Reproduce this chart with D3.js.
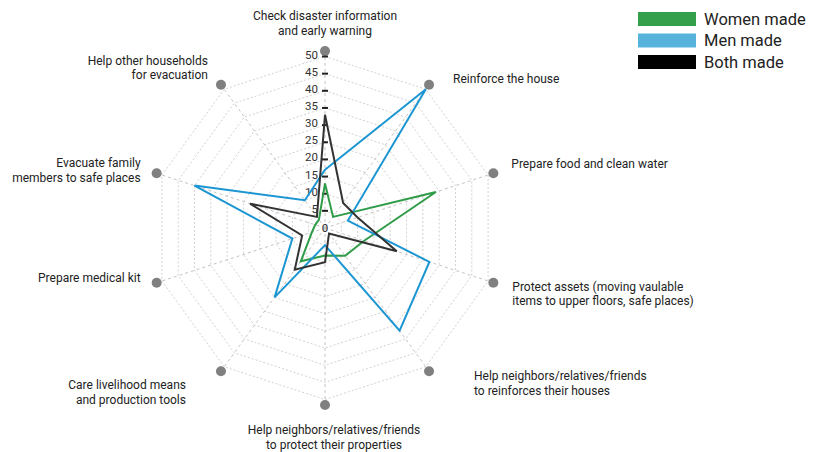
<!DOCTYPE html>
<html>
<head>
<meta charset="utf-8">
<script src="https://cdn.jsdelivr.net/npm/d3@7"></script>
<style>
  html, body { margin: 0; padding: 0; background: #fff; }
  svg { display: block; font-family: Roboto, "Noto Sans", sans-serif; }
</style>
</head>
<body>
<svg id="chart" width="826" height="452"></svg>
<script>
// ---- data ----
const categories = [
  ["Check disaster information", "and early warning"],
  ["Reinforce the house"],
  ["Prepare food and clean water"],
  ["Protect assets (moving vaulable", "items to upper floors, safe places)"],
  ["Help neighbors/relatives/friends", "to reinforces their houses"],
  ["Help neighbors/relatives/friends", "to protect their properties"],
  ["Care livelihood means", "and production tools"],
  ["Prepare medical kit"],
  ["Evacuate family", "members to safe places"],
  ["Help other households", "for evacuation"]
];
const seriesNames = ["Women made", "Men made", "Both made"];
const womenMade = [13, 4, 34, 12, 10, 8, 12, 4, 3, 3];
const menMade   = [17, 50, 7, 32, 37, 5, 25, 10, 40, 10];
const bothMade  = [33, 9, 10, 22, 2, 10, 15, 7, 23, 4];
const tickValues = [0, 5, 10, 15, 20, 25, 30, 35, 40, 45, 50];

// ---- layout / style ----
const cx = 325, cy = 228, R = 171.5, dotR = 177;
const lineColors = ["#2e9c48", "#1c96d2", "#333333"];
const legendColors = ["#35a04b", "#58b3dc", "#000000"];
// label offsets relative to the axis end dot: [dx, dy of first line]
const labelLayout = [
  [0, -35], [24, -6], [18, -9], [19, 4], [45, 5],
  [9, 25], [-35, 14], [-16, -5], [-16, -10], [-13, -24]
];

const svg = d3.select("#chart");
const n = categories.length;
const r = d3.scaleLinear().domain([0, 50]).range([0, R]);
const angle = d3.scaleLinear().domain([0, n]).range([0, 2 * Math.PI]);
const px = (i, v) => cx + v * Math.sin(angle(i));
const py = (i, v) => cy - v * Math.cos(angle(i));

const g = svg.append("g");

// grid decagons
const gridLine = d3.line().x(d => d[0]).y(d => d[1]);
tickValues.filter(t => t > 0).forEach(t => {
  const pts = d3.range(n + 1).map(i => [px(i % n, r(t)), py(i % n, r(t))]);
  g.append("path").attr("d", gridLine(pts))
    .attr("fill", "none").attr("stroke", "#d2d2d2")
    .attr("stroke-width", 1).attr("stroke-dasharray", "2,2");
});

// axis spokes
d3.range(n).forEach(i => {
  g.append("line")
    .attr("x1", cx).attr("y1", cy)
    .attr("x2", px(i, dotR)).attr("y2", py(i, dotR))
    .attr("stroke", "#c4c4c4").attr("stroke-width", 1)
    .attr("stroke-dasharray", "3,3");
});

// dots
d3.range(n).forEach(i => {
  g.append("circle")
    .attr("cx", px(i, dotR)).attr("cy", py(i, dotR))
    .attr("r", 5).attr("fill", "#808080");
});

// tick labels and marks on the top axis
tickValues.forEach(t => {
  const y = cy - r(t);
  if (t === 0) {
    g.append("text").attr("x", cx).attr("y", y)
      .attr("text-anchor", "middle").attr("dominant-baseline", "central")
      .attr("font-size", 11.5).attr("fill", "#333").text(t);
  } else {
    g.append("line").attr("x1", cx - 3).attr("x2", cx + 3)
      .attr("y1", y).attr("y2", y)
      .attr("stroke", "#222").attr("stroke-width", 2);
    g.append("text").attr("x", cx - 7).attr("y", y - 2)
      .attr("text-anchor", "end").attr("dominant-baseline", "central")
      .attr("font-size", 11.5).attr("fill", "#333").text(t);
  }
});

// series
const radial = d3.lineRadial()
  .angle((d, i) => angle(i))
  .radius(d => r(d))
  .curve(d3.curveLinearClosed);
[womenMade, menMade, bothMade].forEach((vals, k) => {
  g.append("path")
    .attr("transform", `translate(${cx},${cy})`)
    .attr("d", radial(vals))
    .attr("fill", "none")
    .attr("stroke", lineColors[k])
    .attr("stroke-width", 2)
    .attr("stroke-linejoin", "miter");
});

// category labels
categories.forEach((lines, i) => {
  const s = Math.sin(angle(i));
  const anchor = Math.abs(s) < 0.01 ? "middle" : (s > 0 ? "start" : "end");
  const x0 = px(i, dotR) + labelLayout[i][0];
  const y0 = py(i, dotR) + labelLayout[i][1];
  const t = g.append("text")
    .attr("text-anchor", anchor)
    .attr("font-size", 12).attr("fill", "#222");
  lines.forEach((ln, j) => {
    t.append("tspan").attr("x", x0).attr("y", y0 + j * 14.5)
      .attr("dominant-baseline", "central").text(ln);
  });
});

// legend
const lg = svg.append("g").attr("transform", "translate(638,12)");
seriesNames.forEach((name, k) => {
  const row = lg.append("g").attr("transform", `translate(0,${k * 21.5})`);
  row.append("rect").attr("width", 58).attr("height", 14)
    .attr("fill", legendColors[k]);
  row.append("text").attr("x", 66).attr("y", 7)
    .attr("dominant-baseline", "central")
    .attr("font-size", 16.5).attr("fill", "#222").text(name);
});
</script>
</body>
</html>
